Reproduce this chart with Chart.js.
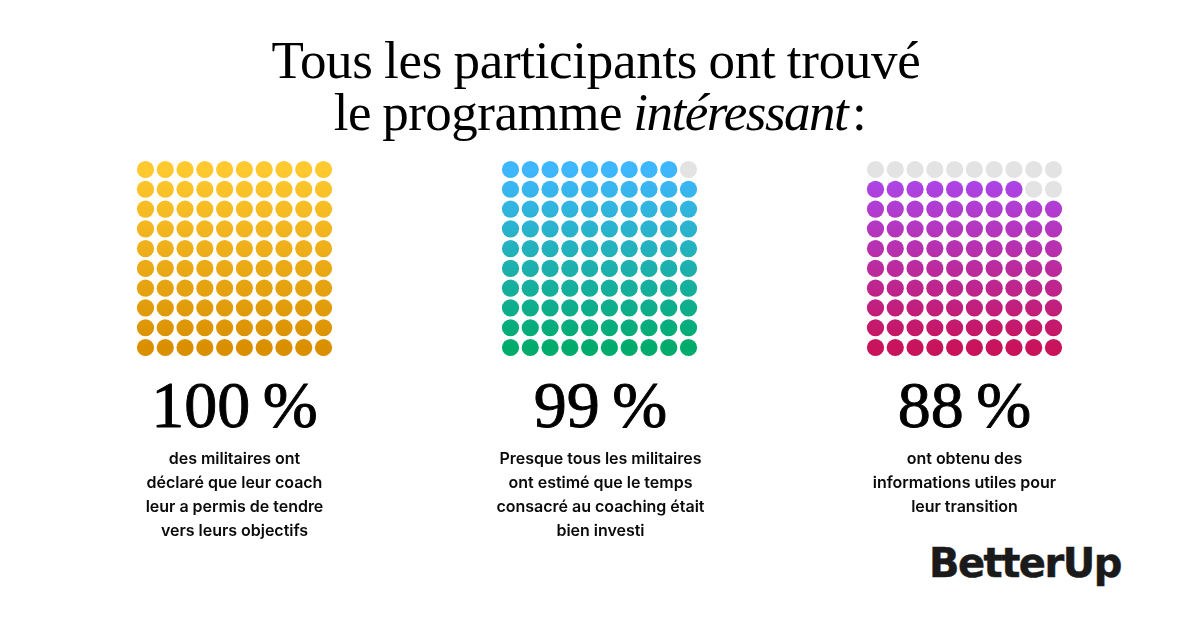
<!DOCTYPE html>
<html lang="fr">
<head>
<meta charset="utf-8">
<title>Tous les participants ont trouvé le programme intéressant</title>
<script src="https://cdn.jsdelivr.net/npm/chart.js@4"></script>
<style>
  html, body { margin: 0; padding: 0; background: #fff; }
  body { position: relative; width: 1200px; height: 627px; overflow: hidden; color: #000; }
  .title { position: absolute; left: 0; width: 1192px; top: 34px; text-align: center;
    font: 400 53px/52px "Liberation Serif", serif; letter-spacing: -0.3px; word-spacing: -1.5px; }
  .title .second { display: block; padding-left: 8px; letter-spacing: -0.5px; }
  .title em { letter-spacing: -1.5px; padding-right: 2px; }
  .title .colon { margin-left: -1px; word-spacing: -9px; }
  .grid { position: absolute; top: 151px; width: 215px; height: 215px; }
  .grid canvas { display: block; }
  .number { position: absolute; top: 365px; width: 300px; text-align: center;
    font: 400 66px/80px "Liberation Serif", serif; -webkit-text-stroke: 0.9px #000; word-spacing: -4px; }
  .note { position: absolute; top: 446px; width: 300px; text-align: center;
    font: 600 16px/24px Inter, sans-serif; color: #0a0a0a; letter-spacing: -0.02px; }
  .logo { position: absolute; left: 929px; top: 540px; font: 700 40px/46px "DejaVu Sans", sans-serif;
    color: #1a1a1a; letter-spacing: -1.5px; -webkit-text-stroke: 0.5px #1a1a1a; }
</style>
</head>
<body>
<div class="title">Tous les participants ont trouvé<span class="second">le programme <em>intéressant</em><span class="colon"> :</span></span></div>
<div id="panels"></div>
<div class="logo">BetterUp</div>
<script>
const ROW_LABELS = ['r1', 'r2', 'r3', 'r4', 'r5', 'r6', 'r7', 'r8', 'r9', 'r10'];
const COLUMN_LABELS = ['c1', 'c2', 'c3', 'c4', 'c5', 'c6', 'c7', 'c8', 'c9', 'c10'];

const PERCENT_LABELS = ['100 %', '99 %', '88 %'];

// filled dots per row, top row first
const YELLOW_FILLED = [10, 10, 10, 10, 10, 10, 10, 10, 10, 10];
const BLUE_FILLED = [9, 10, 10, 10, 10, 10, 10, 10, 10, 10];
const PURPLE_FILLED = [0, 8, 10, 10, 10, 10, 10, 10, 10, 10];

const GRADIENT_TOP = ['#ffc92f', '#3fb7ff', '#aa48f2'];
const GRADIENT_BOTTOM = ['#d98f00', '#00ab6b', '#c8135a'];
const EMPTY_COLOR = '#e3e3e3';

const NOTES = [
  ['des militaires ont', 'déclaré que leur coach', 'leur a permis de tendre', 'vers leurs objectifs'],
  ['Presque tous les militaires', 'ont estimé que le temps', 'consacré au coaching était', 'bien investi'],
  ['ont obtenu des', 'informations utiles pour', 'leur transition'],
];

const GRID_LEFT = [126.8, 491.8, 856.8];
const COLUMN_CENTER = [234.5, 600.5, 964.5];

function buildPoints(filledPerRow) {
  const filled = [];
  const empty = [];
  ROW_LABELS.forEach((row, r) => {
    COLUMN_LABELS.forEach((col, c) => {
      const point = { x: col, y: row };
      if (c < filledPerRow[r]) filled.push(point);
      else empty.push(point);
    });
  });
  return { filled, empty };
}

function createWaffle(canvas, filledPerRow, topColor, bottomColor) {
  const { filled, empty } = buildPoints(filledPerRow);
  const gradient = canvas.getContext('2d').createLinearGradient(0, 18, 0, 197);
  gradient.addColorStop(0, topColor);
  gradient.addColorStop(1, bottomColor);

  return new Chart(canvas, {
    type: 'scatter',
    data: {
      datasets: [
        { data: filled, backgroundColor: gradient, borderWidth: 0, pointRadius: 8.6 },
        { data: empty, backgroundColor: EMPTY_COLOR, borderWidth: 0, pointRadius: 8.6 },
      ],
    },
    options: {
      responsive: false,
      animation: false,
      layout: { padding: 0 },
      plugins: { legend: { display: false }, tooltip: { enabled: false } },
      scales: {
        x: { type: 'category', labels: COLUMN_LABELS, display: false, offset: true, grid: { offset: true } },
        y: { type: 'category', labels: ROW_LABELS, display: false, offset: true, grid: { offset: true } },
      },
    },
  });
}

function addPanel(i, filledPerRow) {
  const panels = document.getElementById('panels');

  const grid = document.createElement('div');
  grid.className = 'grid';
  grid.style.left = `${GRID_LEFT[i]}px`;
  const canvas = document.createElement('canvas');
  canvas.width = 215;
  canvas.height = 215;
  grid.append(canvas);
  panels.append(grid);

  const number = document.createElement('div');
  number.className = 'number';
  number.style.left = `${COLUMN_CENTER[i] - 150}px`;
  number.textContent = PERCENT_LABELS[i];
  panels.append(number);

  const note = document.createElement('div');
  note.className = 'note';
  note.style.left = `${COLUMN_CENTER[i] - 150}px`;
  note.innerHTML = NOTES[i].join('<br>');
  panels.append(note);

  createWaffle(canvas, filledPerRow, GRADIENT_TOP[i], GRADIENT_BOTTOM[i]);
}

addPanel(0, YELLOW_FILLED);
addPanel(1, BLUE_FILLED);
addPanel(2, PURPLE_FILLED);
</script>
</body>
</html>
